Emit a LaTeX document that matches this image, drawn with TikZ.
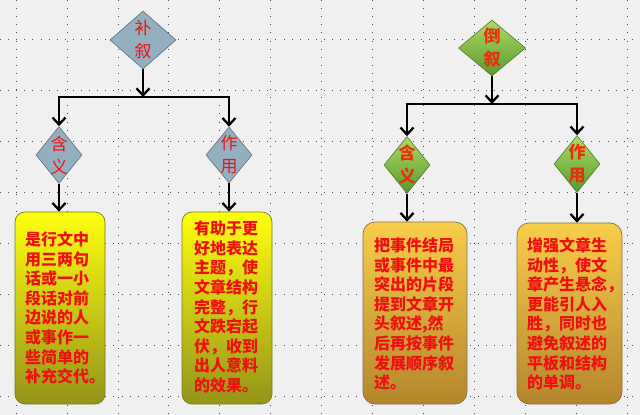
\documentclass[tikz,border=0pt]{standalone}
\usepackage{fontspec}
\setmainfont{Noto Sans CJK SC}
\usetikzlibrary{shapes.geometric,arrows.meta}
\definecolor{bgc}{HTML}{F0F0F0}
\definecolor{gridc}{HTML}{505050}
\definecolor{bluefill}{HTML}{94AFC0}
\definecolor{blueline}{HTML}{5A7080}
\definecolor{greentop}{HTML}{ADDC64}
\definecolor{greenbot}{HTML}{5A9830}
\definecolor{greenline}{HTML}{4C7A28}
\definecolor{yeltop}{HTML}{FFFF10}
\definecolor{yelbot}{HTML}{94941A}
\definecolor{yelline}{HTML}{7A7A20}
\definecolor{orgtop}{HTML}{F8CE4A}
\definecolor{orgbot}{HTML}{B4862C}
\definecolor{orgline}{HTML}{8A7040}
\definecolor{txtred}{HTML}{F01010}
\definecolor{txtorg}{HTML}{E8300A}
\tikzset{
  gridline/.style={gridc, line width=0.9pt, dash pattern=on 0.9pt off 7.2pt},
  bluedia/.style={diamond, draw=blueline, fill=bluefill, line width=0.6pt, inner sep=0pt, aspect=1},
  greendia/.style={diamond, draw=greenline, top color=greentop, bottom color=greenbot, line width=0.6pt, inner sep=0pt, aspect=1},
  yelbox/.style={rectangle, rounded corners=10pt, draw=yelline, top color=yeltop, bottom color=yelbot, line width=0.7pt},
  orgbox/.style={rectangle, rounded corners=12pt, draw=orgline, top color=orgtop, bottom color=orgbot, line width=0.7pt},
  dialabel/.style={align=center, font=\fontsize{17}{23}\selectfont, inner sep=0pt},
  dialabelb/.style={align=center, font=\fontsize{17}{23}\selectfont\bfseries, inner sep=0pt},
  boxtext/.style={align=left, font=\fontsize{16}{19.6}\selectfont\bfseries, text=txtred, inner sep=0pt},
  arr/.style={line width=2.3pt, -{Straight Barb[length=7pt,width=13pt]}},
}
\begin{document}
\begin{tikzpicture}[x=1pt,y=-1pt]
\useasboundingbox (0,0) rectangle (640,415);
\fill[bgc] (0,0) rectangle (640,415);
% dotted grid
\foreach \gx in {16,67,118,168,219,270,321,372,423,474,525,576,627}
  \draw[gridline] (\gx,0) -- (\gx,415);
\foreach \gy in {39,90,141,192,243,294,345,396}
  \draw[gridline] (0,\gy) -- (640,\gy);

% ---------- left tree ----------
\node[bluedia, minimum width=66pt, minimum height=58pt] (bx) at (143,40) {};
\node[dialabel, text=txtred] (bxt) at (bx.center) {补\\叙};
\node[bluedia, minimum width=46pt, minimum height=57pt] (hy1) at (59,155) {};
\node[dialabel, text=txtred] (hy1t) at (hy1.center) {含\\义};
\node[bluedia, minimum width=46pt, minimum height=56pt] (zy1) at (229,155) {};
\node[dialabel, text=txtred] (zy1t) at (zy1.center) {作\\用};
\coordinate (j1) at (143,97);

\node[yelbox, minimum width=90pt, minimum height=192pt] (b1) at (60,308) {};
\node[boxtext] (b1t) at (65,308) {是行文中\\用三两句\\话或一小\\段话对前\\边说的人\\或事作一\\些简单的\\补充交代。};
\node[yelbox, minimum width=90pt, minimum height=192pt] (b2) at (227,308) {};
\node[boxtext] (b2t) at (226,307) {有助于更\\好地表达\\主题，使\\文章结构\\完整，行\\文跌宕起\\伏，收到\\出人意料\\的效果。};

\draw[arr] (bx.south) -- (j1);
\draw[arr] (j1) -| (hy1.north);
\draw[arr] (j1) -| (zy1.north);
\draw[arr] (hy1.south) -- (hy1.south |- b1.north);
\draw[arr] (zy1.south) -- (zy1.south |- b2.north);

% ---------- right tree ----------
\node[greendia, minimum width=67pt, minimum height=56pt] (dx) at (492,48) {};
\node[dialabelb, text=txtorg] (dxt) at (dx.center) {倒\\叙};
\node[greendia, minimum width=46pt, minimum height=57pt] (hy2) at (407,165) {};
\node[dialabelb, text=txtorg] (hy2t) at (hy2.center) {含\\义};
\node[greendia, minimum width=46pt, minimum height=57pt] (zy2) at (577,164) {};
\node[dialabelb, text=txtorg] (zy2t) at (zy2.center) {作\\用};
\coordinate (j2) at (492,104);

\node[orgbox, minimum width=104pt, minimum height=182pt] (b3) at (415,313) {};
\node[boxtext] (b3t) at (414,314) {把事件结局\\或事件中最\\突出的片段\\提到文章开\\头叙述,然\\后再按事件\\发展顺序叙\\述。};
\node[orgbox, minimum width=105pt, minimum height=181pt] (b4) at (569.5,313.5) {};
\node[boxtext] (b4t) at (575,314) {增强文章生\\动性，使文\\章产生悬念，\\更能引人入\\胜，同时也\\避免叙述的\\平板和结构\\的单调。};

\draw[arr] (dx.south) -- (j2);
\draw[arr] (j2) -| (hy2.north);
\draw[arr] (j2) -| (zy2.north);
\draw[arr] (hy2.south) -- (hy2.south |- b3.north);
\draw[arr] (zy2.south) -- (zy2.south |- b4.north);
\end{tikzpicture}
\end{document}
